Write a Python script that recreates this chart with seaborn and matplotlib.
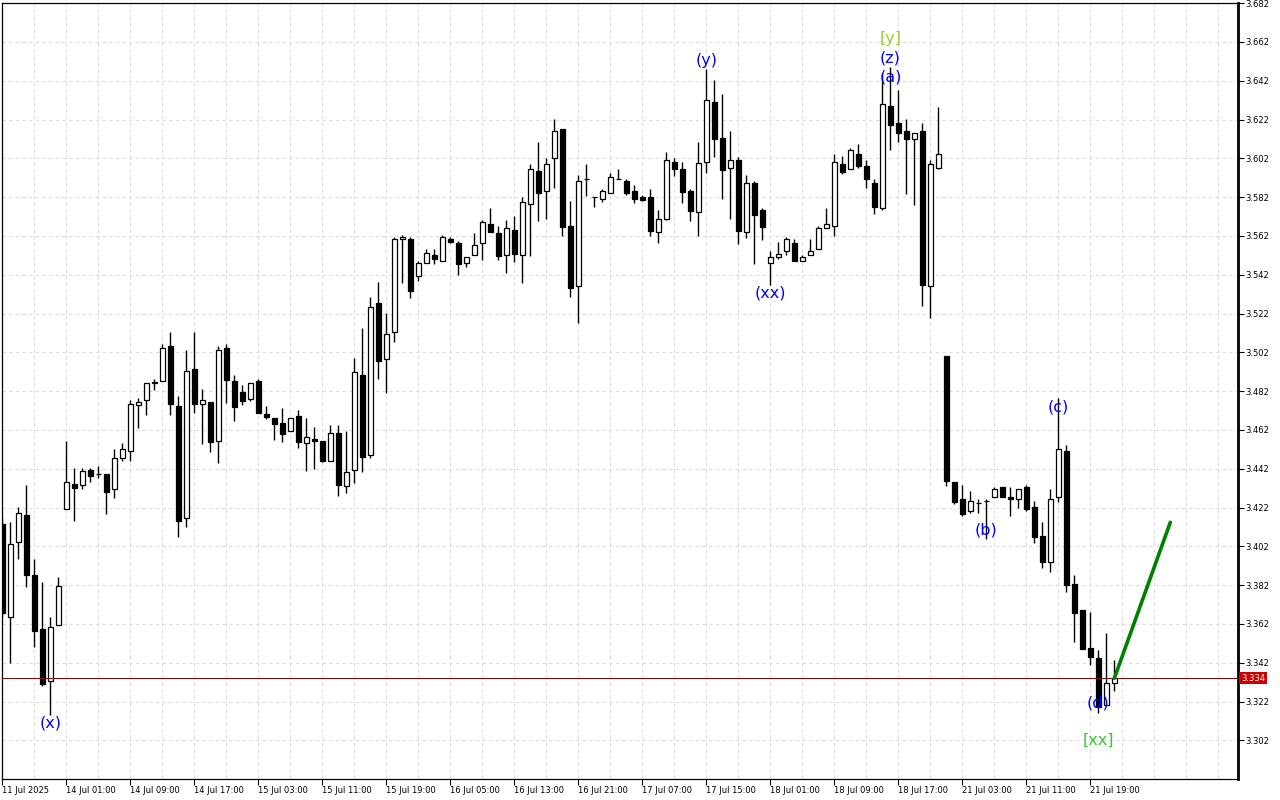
import numpy as np
import pandas as pd
import seaborn as sns
import matplotlib
matplotlib.use("Agg")
import matplotlib.pyplot as plt
import matplotlib.transforms as mtransforms

# ---------------- data ----------------
opens = [3.4135, 3.3655, 3.4041, 3.4180, 3.3871, 3.3593, 3.3325, 3.3613, 3.4211, 3.4340,
         3.4335, 3.4412, 3.4393, 3.4393, 3.4314, 3.4474, 3.4510, 3.4750, 3.4773, 3.4862,
         3.4871, 3.5053, 3.4744, 3.4165, 3.4933, 3.4752, 3.4764, 3.4562, 3.5041, 3.4873,
         3.4816, 3.4781, 3.4873, 3.4702, 3.4682, 3.4656, 3.4613, 3.4692, 3.4551, 3.4574,
         3.4563, 3.4462, 3.4603, 3.4333, 3.4412, 3.4903, 3.4493, 3.5275, 3.4984, 3.5124,
         3.5603, 3.5605, 3.5412, 3.5479, 3.5522, 3.5490, 3.5606, 3.5582, 3.5479, 3.5521,
         3.5582, 3.5680, 3.5634, 3.5521, 3.5649, 3.5521, 3.5783, 3.5955, 3.5852, 3.6021,
         3.6170, 3.5670, 3.5361, 3.5912, 3.5819, 3.5809, 3.5842, 3.5912, 3.5904, 3.5852,
         3.5819, 3.5819, 3.5639, 3.5709, 3.6000, 3.5964, 3.5850, 3.5742, 3.6000, 3.6309,
         3.6124, 3.5971, 3.6010, 3.5639, 3.5892, 3.5753, 3.5479, 3.5510, 3.5541, 3.5582,
         3.5490, 3.5521, 3.5551, 3.5660, 3.5670, 3.5990, 3.5964, 3.6041, 3.5979, 3.5892,
         3.5763, 3.6290, 3.6201, 3.6160, 3.6122, 3.6160, 3.5361, 3.5969, 3.5001, 3.4350,
         3.4263, 3.4201, 3.4242, 3.4252, 3.4273, 3.4325, 3.4273, 3.4263, 3.4325, 3.4222,
         3.4072, 3.3941, 3.4273, 3.4512, 3.3826, 3.3692, 3.3498, 3.3445, 3.3201, 3.3314]
highs = [3.4166, 3.4146, 3.4222, 3.4336, 3.3953, 3.3835, 3.3655, 3.3862, 3.4563, 3.4423,
         3.4424, 3.4423, 3.4433, 3.4395, 3.4522, 3.4553, 3.4775, 3.4785, 3.4862, 3.4883,
         3.5063, 3.5125, 3.4794, 3.5031, 3.5125, 3.4830, 3.4766, 3.5055, 3.5062, 3.4903,
         3.4852, 3.4862, 3.4883, 3.4744, 3.4682, 3.4733, 3.4680, 3.4723, 3.4680, 3.4635,
         3.4565, 3.4646, 3.4646, 3.4616, 3.4993, 3.5146, 3.5304, 3.5383, 3.5222, 3.5616,
         3.5625, 3.5616, 3.5491, 3.5551, 3.5551, 3.5624, 3.5616, 3.5594, 3.5510, 3.5634,
         3.5702, 3.5763, 3.5670, 3.5702, 3.5722, 3.5819, 3.5991, 3.6103, 3.6021, 3.6222,
         3.6172, 3.5800, 3.5933, 3.5991, 3.5822, 3.5862, 3.5945, 3.5965, 3.5914, 3.5881,
         3.5830, 3.5861, 3.5753, 3.6053, 3.6021, 3.6000, 3.5861, 3.6104, 3.6481, 3.6424,
         3.6352, 3.6160, 3.6029, 3.5934, 3.5902, 3.5763, 3.5541, 3.5591, 3.5613, 3.5603,
         3.5521, 3.5603, 3.5670, 3.5763, 3.6041, 3.6032, 3.6072, 3.6094, 3.6010, 3.5912,
         3.6460, 3.6490, 3.6373, 3.6222, 3.6149, 3.6201, 3.6010, 3.6287, 3.5001, 3.4350,
         3.4335, 3.4304, 3.4263, 3.4263, 3.4325, 3.4325, 3.4325, 3.4314, 3.4335, 3.4252,
         3.4144, 3.4314, 3.4785, 3.4543, 3.3874, 3.3692, 3.3682, 3.3486, 3.3572, 3.3433]
lows = [3.3656, 3.3420, 3.3953, 3.3812, 3.3503, 3.3302, 3.3151, 3.3613, 3.4211, 3.4152,
        3.4314, 3.4350, 3.4371, 3.4189, 3.4271, 3.4460, 3.4462, 3.4632, 3.4699, 3.4826,
        3.4871, 3.4699, 3.4070, 3.4122, 3.4709, 3.4549, 3.4508, 3.4451, 3.4761, 3.4668,
        3.4750, 3.4770, 3.4709, 3.4678, 3.4570, 3.4560, 3.4613, 3.4529, 3.4410, 3.4420,
        3.4454, 3.4462, 3.4280, 3.4294, 3.4348, 3.4402, 3.4474, 3.4881, 3.4812, 3.5072,
        3.5379, 3.5302, 3.5390, 3.5479, 3.5474, 3.5490, 3.5582, 3.5421, 3.5462, 3.5521,
        3.5496, 3.5639, 3.5498, 3.5431, 3.5488, 3.5379, 3.5518, 3.5699, 3.5709, 3.5869,
        3.5620, 3.5307, 3.5170, 3.5828, 3.5771, 3.5794, 3.5842, 3.5912, 3.5830, 3.5792,
        3.5799, 3.5622, 3.5582, 3.5701, 3.5931, 3.5792, 3.5699, 3.5622, 3.5943, 3.6026,
        3.5809, 3.5709, 3.5581, 3.5610, 3.5477, 3.5599, 3.5367, 3.5500, 3.5521, 3.5490,
        3.5490, 3.5521, 3.5551, 3.5660, 3.5620, 3.5940, 3.5964, 3.5969, 3.5869, 3.5732,
        3.5753, 3.6062, 3.6103, 3.5838, 3.5781, 3.5261, 3.5197, 3.5964, 3.4333, 3.4240,
        3.4178, 3.4191, 3.4191, 3.4060, 3.4273, 3.4273, 3.4178, 3.4219, 3.4201, 3.4039,
        3.3910, 3.3890, 3.4250, 3.3783, 3.3529, 3.3493, 3.3410, 3.3163, 3.3201, 3.3273]
closes = [3.3677, 3.4031, 3.4191, 3.3871, 3.3582, 3.3311, 3.3603, 3.3814, 3.4350, 3.4323,
          3.4410, 3.4383, 3.4393, 3.4302, 3.4474, 3.4521, 3.4752, 3.4764, 3.4861, 3.4865,
          3.5041, 3.4752, 3.4152, 3.4923, 3.4752, 3.4773, 3.4560, 3.5031, 3.4879, 3.4740,
          3.4771, 3.4861, 3.4709, 3.4689, 3.4652, 3.4601, 3.4680, 3.4560, 3.4582, 3.4562,
          3.4462, 3.4603, 3.4336, 3.4402, 3.4921, 3.4482, 3.5252, 3.4974, 3.5113, 3.5603,
          3.5613, 3.5338, 3.5481, 3.5531, 3.5500, 3.5613, 3.5591, 3.5474, 3.5510, 3.5572,
          3.5691, 3.5639, 3.5518, 3.5660, 3.5529, 3.5794, 3.5964, 3.5840, 3.5990, 3.6160,
          3.5668, 3.5350, 3.5902, 3.5912, 3.5819, 3.5850, 3.5923, 3.5912, 3.5840, 3.5809,
          3.5806, 3.5647, 3.5709, 3.6010, 3.5964, 3.5848, 3.5750, 3.5998, 3.6319, 3.6122,
          3.5962, 3.6010, 3.5647, 3.5892, 3.5730, 3.5668, 3.5510, 3.5529, 3.5603, 3.5490,
          3.5510, 3.5541, 3.5660, 3.5680, 3.6000, 3.5951, 3.6062, 3.5979, 3.5912, 3.5771,
          3.6299, 3.6191, 3.6149, 3.6122, 3.6149, 3.5369, 3.5990, 3.6041, 3.4359, 3.4250,
          3.4189, 3.4252, 3.4242, 3.4252, 3.4314, 3.4273, 3.4263, 3.4314, 3.4211, 3.4070,
          3.3942, 3.4263, 3.4521, 3.3823, 3.3678, 3.3493, 3.3451, 3.3194, 3.3314, 3.3340]

date_labels = ["11 Jul 2025", "14 Jul 01:00", "14 Jul 09:00", "14 Jul 17:00", "15 Jul 03:00",
               "15 Jul 11:00", "15 Jul 19:00", "16 Jul 05:00", "16 Jul 13:00", "16 Jul 21:00",
               "17 Jul 07:00", "17 Jul 15:00", "18 Jul 01:00", "18 Jul 09:00", "18 Jul 17:00",
               "21 Jul 03:00", "21 Jul 11:00", "21 Jul 19:00"]
label_bars = [0, 8, 16, 24, 32, 40, 48, 56, 64, 72, 80, 88, 96, 104, 112, 120, 128, 136]

price_ticks = [3.302, 3.322, 3.342, 3.362, 3.382, 3.402, 3.422, 3.442, 3.462, 3.482,
               3.502, 3.522, 3.542, 3.562, 3.582, 3.602, 3.622, 3.642, 3.662, 3.682]

current_price = 3.334

wave_text = ["(x)", "(y)", "(xx)", "[y]", "(z)", "(a)", "(b)", "(c)", "(d)", "[xx]"]
wave_bar = [6, 88, 96, 111, 111, 111, 123, 132, 137, 137]
wave_price = [3.3110, 3.6527, 3.5326, 3.6636, 3.6538, 3.6440, 3.4105, 3.4739, 3.3213, 3.3022]
wave_color = ["#0000ff", "#0000ff", "#0000ff", "#9acd32", "#0000ff", "#0000ff",
              "#0000ff", "#0000ff", "#0000ff", "#32cd32"]

proj_bar = [139, 146]
proj_price = [3.334, 3.4144]

# ---------------- figure ----------------
sns.set_theme(style="white")
plt.rcParams['font.family'] = ['DejaVu Sans']

df = pd.DataFrame({"open": opens, "high": highs, "low": lows, "close": closes})
df["bar"] = np.arange(len(df))

fig = plt.figure(figsize=(12.8, 8), dpi=100)
fig.patch.set_facecolor("white")
ax = fig.add_axes([2 / 1280, 21 / 800, 1236 / 1280, 776.4 / 800])
ax.set_facecolor("white")

ax.set_xlim(-0.04, 154.46)
ax.set_ylim(3.2821, 3.6823)

# grid
ax.set_xticks(label_bars)
ax.set_xticks(np.arange(0, 155, 4), minor=True)
ax.set_yticks(price_ticks)
ax.grid(True, which="both", axis="x", color="#dcdcdc", linestyle=(0, (3, 3)), linewidth=0.8)
ax.grid(True, which="major", axis="y", color="#dcdcdc", linestyle=(0, (3, 3)), linewidth=0.8)
ax.set_axisbelow(True)

# wicks
ax.vlines(df["bar"], df["low"], df["high"], color="black", linewidth=1.0, zorder=2)

# bodies
up = df["close"] >= df["open"]
bottoms = np.minimum(df["open"], df["close"])
heights = np.abs(df["close"] - df["open"])
face = np.where(up, "white", "black")
ax.bar(df["bar"], heights, bottom=bottoms, width=0.62, color=face,
       edgecolor="black", linewidth=0.9, zorder=3)

# current price line
ax.axhline(current_price, color="#7a0f0f", linewidth=0.75, zorder=4)

# projection line
sns.lineplot(x=proj_bar, y=proj_price, ax=ax, color="#008000", linewidth=2.6, zorder=5)

# wave labels
for t, b, p, c in zip(wave_text, wave_bar, wave_price, wave_color):
    ax.text(b, p, t, color=c, fontsize=11.5, ha="center", va="center", zorder=6)

# axes styling
ax.yaxis.tick_right()
ax.set_yticklabels([f"{v:.3f}" for v in price_ticks], fontsize=6)
ax.set_xticklabels(date_labels, fontsize=6)
for lbl in ax.get_xticklabels():
    lbl.set_horizontalalignment("left")
ax.tick_params(axis="y", which="major", right=True, left=False, length=4, width=0.8,
               pad=1, color="black", labelcolor="black")
ax.tick_params(axis="x", which="major", bottom=True, length=4, width=0.8, pad=1,
               color="black", labelcolor="black")
ax.tick_params(axis="x", which="minor", bottom=False, length=0)
ax.set_xlabel("")
ax.set_ylabel("")

for side in ["left", "top", "bottom"]:
    ax.spines[side].set_visible(True)
    ax.spines[side].set_color("black")
    ax.spines[side].set_linewidth(0.9)
ax.spines["right"].set_visible(True)
ax.spines["right"].set_color("black")
ax.spines["right"].set_linewidth(2.0)

# price tag
trans = mtransforms.blended_transform_factory(ax.transAxes, ax.transData)
ax.text(1.0025, current_price, f"{current_price:.3f}", transform=trans, ha="left",
        va="center", fontsize=6, color="white", zorder=10, clip_on=False,
        bbox=dict(boxstyle="square,pad=0.2", facecolor="#cc0000", edgecolor="none"))

leg = ax.get_legend()
if leg is not None:
    leg.remove()

fig.savefig("out.png", dpi=100, facecolor="white")
